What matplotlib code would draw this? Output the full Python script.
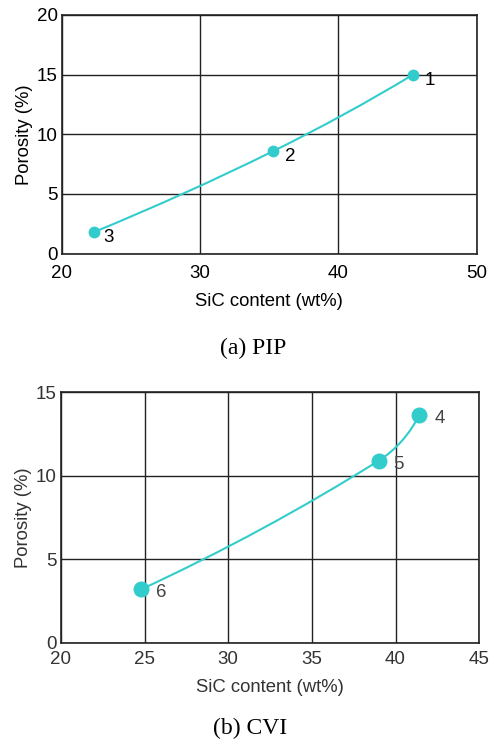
import numpy as np
import matplotlib
matplotlib.use("Agg")
import matplotlib.pyplot as plt
from matplotlib.path import Path
from matplotlib.patches import PathPatch

plt.rcParams["font.family"] = ["Liberation Sans", "DejaVu Sans"]

# ----------------------- data -----------------------
pip_sic = [45.4, 35.3, 22.3]
pip_por = [15.0, 8.6, 1.8]
pip_labels = ["1", "2", "3"]

cvi_sic = [41.4, 39.0, 24.8]
cvi_por = [13.6, 10.9, 3.2]
cvi_labels = ["4", "5", "6"]

TEAL = "#33CCCC"


def unit(v):
    return v / np.hypot(*v)


def smooth_path(ax, xs, ys, color, lw):
    # smooth curve through the points, cubic Bezier segments in display space
    pts = ax.transData.transform(np.column_stack([xs, ys]))
    n = len(pts)
    tans = [None] * n
    for i in range(1, n - 1):
        tans[i] = unit(pts[i + 1] - pts[i - 1])
    # natural-ish end tangents (reflect the inner tangent about the chord)
    tans[0] = unit(2 * unit(pts[1] - pts[0]) - tans[1])
    tans[-1] = unit(2 * unit(pts[-1] - pts[-2]) - tans[-2])

    verts = [pts[0]]
    codes = [Path.MOVETO]
    for i in range(n - 1):
        p1, p2 = pts[i], pts[i + 1]
        L = np.hypot(*(p2 - p1)) / 3.0
        verts += [p1 + tans[i] * L, p2 - tans[i + 1] * L, p2]
        codes += [Path.CURVE4] * 3
    patch = PathPatch(Path(verts, codes), transform=None, fill=False,
                      edgecolor=color, lw=lw, zorder=3)
    ax.add_artist(patch)


def setup(ax, xlim, ylim, xticks, yticks, fg, gridc, xpad):
    ax.set_xlim(*xlim)
    ax.set_ylim(*ylim)
    ax.set_xticks(xticks)
    ax.set_yticks(yticks)
    ax.grid(True, color=gridc, lw=1.0)
    ax.set_axisbelow(True)
    ax.tick_params(length=0, labelsize=13.5, labelcolor=fg)
    ax.tick_params(axis="x", pad=xpad)
    ax.tick_params(axis="y", pad=3)
    for s in ax.spines.values():
        s.set_color(gridc)
        s.set_linewidth(1.2)
    ax.set_xlabel("SiC content (wt%)", fontsize=13.3, color=fg, labelpad=8)
    ax.set_ylabel("Porosity (%)", fontsize=13.3, color=fg, labelpad=3)


fig = plt.figure(figsize=(4.91, 7.44), dpi=100)
serif = ["Liberation Serif", "DejaVu Serif"]

# ----------------------- (a) PIP -----------------------
ax1 = fig.add_axes([0.126, 0.659, 0.845, 0.321])
setup(ax1, (20, 50), (0, 20), [20, 30, 40, 50], [0, 5, 10, 15, 20], "black", "#222222", 8)
ax1.plot(pip_sic, pip_por, "o", color=TEAL, ms=7.5, zorder=4)
fig.canvas.draw()
smooth_path(ax1, pip_sic, pip_por, TEAL, 1.5)
offs1 = [(8, -4), (8, -4), (7, -4)]
for x, y, t, o in zip(pip_sic, pip_por, pip_labels, offs1):
    ax1.annotate(t, (x, y), xytext=o, textcoords="offset points", fontsize=13.5,
                 ha="left", va="center", color="black")
fig.text(0.515, 0.532, "(a) PIP", ha="center", va="center", fontsize=17, family=serif)

# ----------------------- (b) CVI -----------------------
ax2 = fig.add_axes([0.124, 0.136, 0.852, 0.337])
setup(ax2, (20, 45), (0, 15), [20, 25, 30, 35, 40, 45], [0, 5, 10, 15], "#333333", "#222222", 6)
ax2.plot(cvi_sic, cvi_por, "o", color=TEAL, ms=10.5, zorder=4)
fig.canvas.draw()
smooth_path(ax2, cvi_sic, cvi_por, TEAL, 1.5)
offs2 = [(11, -2), (10, -3), (11, -2)]
for x, y, t, o in zip(cvi_sic, cvi_por, cvi_labels, offs2):
    ax2.annotate(t, (x, y), xytext=o, textcoords="offset points", fontsize=13.5,
                 ha="left", va="center", color="#444444")
fig.text(0.51, 0.021, "(b) CVI", ha="center", va="center", fontsize=17, family=serif)

fig.savefig("out.png", dpi=100)
